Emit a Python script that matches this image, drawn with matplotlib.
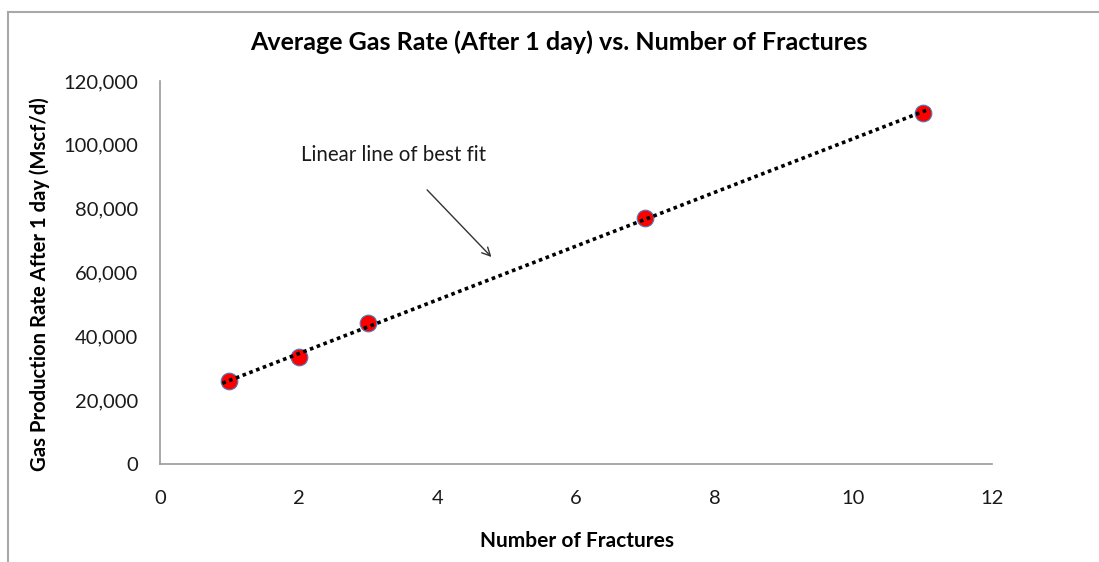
import numpy as np
import matplotlib.pyplot as plt
from matplotlib.lines import Line2D

# dados
num_fraturas = [1, 2, 3, 7, 11]
vazao_gas = [26000, 33500, 44200, 77100, 110000]
y_ticks = [0, 20000, 40000, 60000, 80000, 100000, 120000]
x_ticks = [0, 2, 4, 6, 8, 10, 12]

plt.rcParams['font.family'] = ['Lato', 'DejaVu Sans']

fig = plt.figure(figsize=(10.99, 5.62), dpi=100)
ax = fig.add_axes([0.1456, 0.1744, 0.7571, 0.6815])

# linha de tendencia (ajuste linear)
coef = np.polyfit(num_fraturas, vazao_gas, 1)
x_fit = np.array([min(num_fraturas) - 0.1, max(num_fraturas) + 0.1])
ax.plot(x_fit, np.polyval(coef, x_fit), color='black', lw=2.6,
        linestyle=(0, (1, 1)), dash_capstyle='butt', zorder=3)

ax.plot(num_fraturas, vazao_gas, 'o', color='#ff0000', ms=12,
        markeredgecolor='#4a7ebb', markeredgewidth=0.8, zorder=2)

ax.set_xlim(0, 12)
ax.set_ylim(0, 120000)
ax.set_xticks(x_ticks)
ax.set_yticks(y_ticks)
ax.set_yticklabels([f'{v:,}' for v in y_ticks])
ax.tick_params(length=0, labelsize=14.5, colors='#1a1a1a')
ax.tick_params(axis='x', pad=19)
ax.tick_params(axis='y', pad=16)
for s in ['top', 'right']:
    ax.spines[s].set_visible(False)
for s in ['left', 'bottom']:
    ax.spines[s].set_color('#9a9a9a')
    ax.spines[s].set_linewidth(1.2)

ax.annotate('Linear line of best fit', xy=(4.78, 64850), xytext=(3.37, 96800),
            ha='center', va='center', fontsize=14.8, color='#1a1a1a',
            arrowprops=dict(arrowstyle='->', color='#333333', lw=1,
                            shrinkA=22, shrinkB=0))

fig.text(559 / 1099, 1 - 42 / 562, 'Average Gas Rate (After 1 day) vs. Number of Fractures',
         ha='center', va='center', fontsize=18, fontweight='bold')
fig.text(577 / 1099, 1 - 541 / 562, 'Number of Fractures',
         ha='center', va='center', fontsize=15, fontweight='bold')
fig.text(40 / 1099, 1 - 284 / 562, 'Gas Production Rate After 1 day (Mscf/d)',
         ha='center', va='center', rotation=90, fontsize=14.6, fontweight='bold')

# moldura externa
fig.add_artist(Line2D([8 / 1099, 1], [1 - 12 / 562, 1 - 12 / 562],
                      transform=fig.transFigure, color='#a8a8a8', lw=1.5))
fig.add_artist(Line2D([8 / 1099, 8 / 1099], [0, 1 - 12 / 562],
                      transform=fig.transFigure, color='#a8a8a8', lw=1.5))

fig.savefig('out.png', dpi=100)
